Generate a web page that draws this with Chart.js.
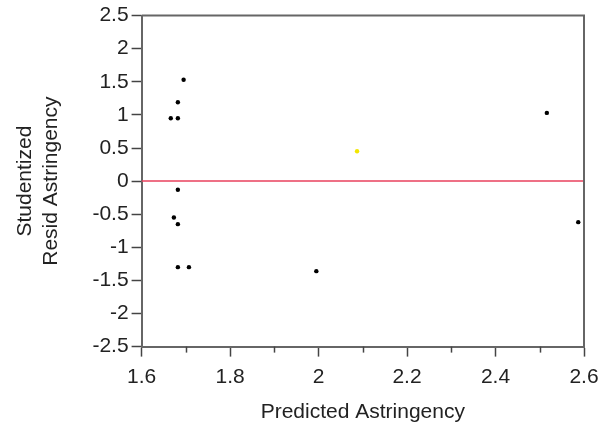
<!DOCTYPE html>
<html>
<head>
<meta charset="utf-8">
<script src="https://cdn.jsdelivr.net/npm/chart.js@4/dist/chart.umd.min.js"></script>
<style>
  html, body { margin: 0; padding: 0; background: #fff; }
  #wrap { width: 603px; height: 425px; }
</style>
</head>
<body>
<div id="wrap"><canvas id="chart"></canvas></div>
<script>
// values
var predicted = [1.695, 1.682, 1.666, 1.682, 1.682, 1.673, 1.682, 1.682, 1.707, 1.995, 2.087, 2.516, 2.587];
var studResid = [1.53, 1.19, 0.95, 0.95, -0.13, -0.55, -0.65, -1.30, -1.30, -1.36, 0.45, 1.03, -0.62];
var pointColors = ['#000', '#000', '#000', '#000', '#000', '#000', '#000', '#000', '#000', '#000', '#f2e600', '#000', '#000'];
var xRange = [1.6, 2.6];
var yRange = [-2.5, 2.5];
var zeroLine = [0, 0];

var points = predicted.map(function (x, i) { return { x: x, y: studResid[i] }; });

// box around the plot + minor ticks on x
var frame = {
  id: 'frame',
  afterDraw: function (chart) {
    var ctx = chart.ctx, a = chart.chartArea, xs = chart.scales.x;
    ctx.save();
    ctx.strokeStyle = '#666';
    ctx.lineWidth = 2;
    ctx.beginPath();
    ctx.moveTo(a.left, a.top);
    ctx.lineTo(a.right, a.top);
    ctx.lineTo(a.right, a.bottom);
    ctx.stroke();
    ctx.lineWidth = 1.5;
    ctx.strokeStyle = '#444';
    for (var v = 1.7; v < 2.6; v += 0.2) {
      var px = Math.round(xs.getPixelForValue(v)) + 0.5;
      ctx.beginPath();
      ctx.moveTo(px, a.bottom);
      ctx.lineTo(px, a.bottom + 6);
      ctx.stroke();
    }
    ctx.restore();
  }
};

var font = { family: 'Liberation Sans, Arial', size: 21 };

new Chart(document.getElementById('chart'), {
  type: 'scatter',
  data: {
    datasets: [
      {
        data: points,
        pointBackgroundColor: pointColors,
        pointBorderColor: pointColors,
        pointRadius: 2.2,
        borderWidth: 0
      },
      {
        type: 'line',
        data: xRange.map(function (x, i) { return { x: x, y: zeroLine[i] }; }),
        borderColor: '#e8405c',
        borderWidth: 1.5,
        pointRadius: 0
      }
    ]
  },
  options: {
    responsive: true,
    maintainAspectRatio: false,
    animation: false,
    layout: { padding: { top: 9, right: 19, left: 13, bottom: 0 } },
    plugins: { legend: { display: false }, tooltip: { enabled: false } },
    scales: {
      x: {
        type: 'linear',
        min: xRange[0],
        max: xRange[1],
        afterFit: function (scale) { scale.paddingRight = 0; },
        border: { color: '#666', width: 2 },
        grid: { drawOnChartArea: false, tickLength: 10, tickColor: '#444', tickWidth: 1.5 },
        ticks: {
          stepSize: 0.2,
          color: '#222',
          font: font,
          padding: 8,
          maxRotation: 0,
          callback: function (v) { return +v.toFixed(1); }
        },
        title: {
          display: true,
          text: 'Predicted Astringency',
          color: '#222',
          font: font,
          padding: { top: 2, bottom: 0 }
        }
      },
      y: {
        type: 'linear',
        min: yRange[0],
        max: yRange[1],
        border: { color: '#666', width: 2 },
        grid: { drawOnChartArea: false, tickLength: 10, tickColor: '#444', tickWidth: 1.5 },
        ticks: {
          stepSize: 0.5,
          color: '#222',
          font: font,
          padding: 3,
          callback: function (v) { return +v.toFixed(1); }
        },
        title: {
          display: true,
          text: ['Studentized', 'Resid Astringency'],
          color: '#222',
          font: font,
          padding: { top: 0, bottom: 26 }
        }
      }
    }
  },
  plugins: [frame]
});
</script>
</body>
</html>
